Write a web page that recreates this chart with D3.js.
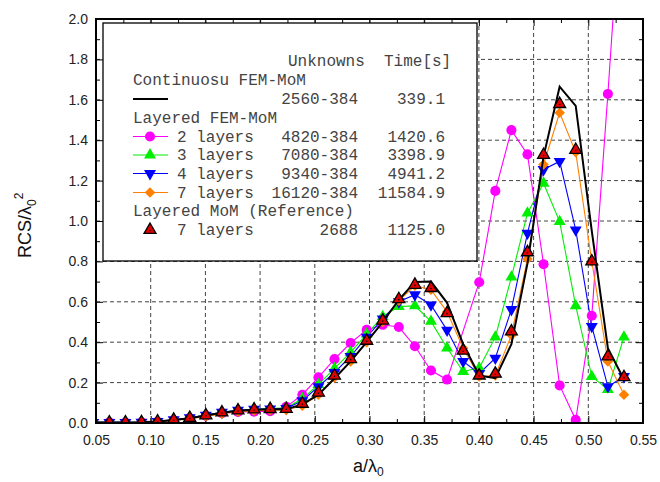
<!DOCTYPE html>
<html lang="en">
<head>
<meta charset="UTF-8">
<title>RCS vs a/λ0</title>
<script src="https://d3js.org/d3.v7.min.js"></script>
<style>
  body { margin: 0; background: #fff; }
  svg { display: block; font-family: "Liberation Sans", Arial, sans-serif; }
  .tick text { font-size: 14px; fill: #222; }
  .tick line { stroke: #000; }
  .legend text { font-family: "Liberation Mono", "Courier New", monospace; font-size: 16px; fill: #444; }
  .grid line { stroke: #444; stroke-dasharray: 4,3; }
  .axis-label { font-size: 18px; fill: #111; }
</style>
</head>
<body>
<svg width="660" height="482"></svg>
<script>
// a/lambda0 sample points
const aLambda = [0.0475, 0.0622, 0.0769, 0.0916, 0.1063, 0.1210, 0.1357, 0.1504, 0.1651, 0.1798,
  0.1945, 0.2092, 0.2239, 0.2386, 0.2533, 0.2680, 0.2827, 0.2974, 0.3121, 0.3268,
  0.3415, 0.3562, 0.3709, 0.3856, 0.4003, 0.4150, 0.4297, 0.4444, 0.4591, 0.4738,
  0.4885, 0.5032, 0.5179, 0.5326];

// Continuous FEM-MoM
const contFem = [0.003, 0.003, 0.003, 0.004, 0.007, 0.015, 0.024, 0.037, 0.051, 0.061,
  0.066, 0.068, 0.068, 0.092, 0.140, 0.220, 0.305, 0.400, 0.500, 0.610,
  0.698, 0.700, 0.595, 0.390, 0.235, 0.222, 0.390, 0.790, 1.320, 1.665,
  1.570, 0.950, 0.370, 0.215];

// Layered FEM-MoM
const fem2 = [0.003, 0.003, 0.002, 0.003, 0.006, 0.014, 0.024, 0.036, 0.048, 0.055,
  0.056, 0.058, 0.080, 0.140, 0.226, 0.316, 0.396, 0.461, 0.486, 0.475,
  0.380, 0.260, 0.215, null, 0.697, 1.149, 1.450, 1.330, 0.786, 0.186,
  0.016, 0.531, 1.629, 2.800];
const fem3 = [0.003, 0.003, 0.003, 0.004, 0.008, 0.016, 0.026, 0.039, 0.053, 0.063,
  0.068, 0.071, 0.075, 0.120, 0.190, 0.270, 0.350, 0.440, 0.527, 0.577,
  0.580, 0.503, 0.371, 0.255, 0.272, 0.425, 0.722, 1.039, 1.187, 0.997,
  0.580, 0.230, 0.165, 0.425];
const fem4 = [0.003, 0.003, 0.003, 0.004, 0.008, 0.016, 0.026, 0.039, 0.053, 0.063,
  0.068, 0.070, 0.072, 0.110, 0.180, 0.250, 0.330, 0.425, 0.515, 0.600,
  0.635, 0.585, 0.460, 0.305, 0.245, 0.321, 0.562, 0.940, 1.255, 1.295,
  0.956, 0.478, 0.180, 0.230];
const fem7 = [0.002, 0.002, 0.002, 0.003, 0.006, 0.013, 0.021, 0.033, 0.046, 0.056,
  0.061, 0.063, 0.064, 0.085, 0.140, 0.225, 0.305, 0.400, 0.500, 0.605,
  0.680, 0.660, 0.550, 0.370, 0.230, 0.235, 0.435, 0.812, 1.280, 1.536,
  1.340, 0.800, 0.305, 0.140];

// Layered MoM (reference)
const momRef = [0.003, 0.003, 0.003, 0.004, 0.008, 0.016, 0.025, 0.038, 0.052, 0.062,
  0.067, 0.069, 0.070, 0.095, 0.150, 0.234, 0.316, 0.407, 0.507, 0.613,
  0.684, 0.668, 0.544, 0.358, 0.235, 0.244, 0.453, 0.845, 1.327, 1.579,
  1.352, 0.800, 0.330, 0.227];

const xTicks = [0.05, 0.10, 0.15, 0.20, 0.25, 0.30, 0.35, 0.40, 0.45, 0.50, 0.55];
const yTicks = [0.0, 0.2, 0.4, 0.6, 0.8, 1.0, 1.2, 1.4, 1.6, 1.8, 2.0];

const layerLabels = ["2 layers", "3 layers", "4 layers", "7 layers"];
const layerUnknowns = ["4820-384", "7080-384", "9340-384", "16120-384"];
const layerTimes = ["1420.6", "3398.9", "4941.2", "11584.9"];

const margin = { top: 19, left: 96 };
const width = 547, height = 404;

const svg = d3.select("svg");
const g = svg.append("g").attr("transform", `translate(${margin.left},${margin.top})`);

const x = d3.scaleLinear().domain([0.05, 0.55]).range([0, width]);
const y = d3.scaleLinear().domain([0, 2]).range([height, 0]);

// dashed grid
const grid = g.append("g").attr("class", "grid");
grid.selectAll(".gx").data(xTicks.slice(1, -1)).join("line")
  .attr("x1", d => x(d)).attr("x2", d => x(d)).attr("y1", 0).attr("y2", height);
grid.selectAll(".gy").data(yTicks.slice(1, -1)).join("line")
  .attr("x1", 0).attr("x2", width).attr("y1", d => y(d)).attr("y2", d => y(d));

// inward ticks on all four sides
const xMinor = d3.range(0.075, 0.55, 0.05);
const yMinor = d3.range(0.1, 2.0, 0.2);

g.append("g").attr("transform", `translate(0,${height})`)
  .call(d3.axisBottom(x).tickValues(xTicks).tickSize(-7).tickPadding(12).tickFormat(d3.format(".2f")))
  .call(a => a.select(".domain").remove());
g.append("g").attr("transform", `translate(0,${height})`)
  .call(d3.axisBottom(x).tickValues(xMinor).tickSize(-4).tickFormat(""))
  .call(a => a.select(".domain").remove());
g.append("g")
  .call(d3.axisTop(x).tickValues(xTicks).tickSize(-7).tickFormat(""))
  .call(a => a.select(".domain").remove());
g.append("g")
  .call(d3.axisTop(x).tickValues(xMinor).tickSize(-4).tickFormat(""))
  .call(a => a.select(".domain").remove());
g.append("g")
  .call(d3.axisLeft(y).tickValues(yTicks).tickSize(-7).tickPadding(8).tickFormat(d3.format(".1f")))
  .call(a => a.select(".domain").remove());
g.append("g")
  .call(d3.axisLeft(y).tickValues(yMinor).tickSize(-4).tickFormat(""))
  .call(a => a.select(".domain").remove());
g.append("g").attr("transform", `translate(${width},0)`)
  .call(d3.axisRight(y).tickValues(yTicks).tickSize(-7).tickFormat(""))
  .call(a => a.select(".domain").remove());
g.append("g").attr("transform", `translate(${width},0)`)
  .call(d3.axisRight(y).tickValues(yMinor).tickSize(-4).tickFormat(""))
  .call(a => a.select(".domain").remove());

// curves
svg.append("defs").append("clipPath").attr("id", "clip")
  .append("rect").attr("width", width).attr("height", height);
const plot = g.append("g").attr("clip-path", "url(#clip)");

const line = d3.line().x(d => x(d[0])).y(d => y(d[1]));
const pairs = vals => aLambda.map((a, i) => [a, vals[i]]).filter(p => p[1] != null);

const femSeries = [
  { values: fem2, color: "#ff00ff", type: d3.symbolCircle, size: 80, rot: 0 },
  { values: fem3, color: "#00ee00", type: d3.symbolTriangle, size: 62, rot: 0 },
  { values: fem4, color: "#0000ff", type: d3.symbolTriangle, size: 62, rot: 180 },
  { values: fem7, color: "#ff8000", type: d3.symbolSquare, size: 56, rot: 45 }
];

function drawMarker(sel, s, cx, cy) {
  sel.append("path")
    .attr("d", d3.symbol().type(s.type).size(s.size)())
    .attr("transform", `translate(${cx},${cy}) rotate(${s.rot})`)
    .attr("fill", s.color);
}

function drawRef(sel, cx, cy) {
  sel.append("path")
    .attr("d", d3.symbol().type(d3.symbolTriangle).size(62)())
    .attr("transform", `translate(${cx},${cy})`)
    .attr("fill", "#e30000").attr("stroke", "#000").attr("stroke-width", 1.3);
  sel.append("circle").attr("cx", cx).attr("cy", cy + 0.5).attr("r", 0.8).attr("fill", "#000");
}

femSeries.forEach(s => {
  plot.append("path").datum(pairs(s.values))
    .attr("d", line).attr("fill", "none").attr("stroke", s.color).attr("stroke-width", 1.1);
});
femSeries.forEach(s => {
  const mg = plot.append("g");
  pairs(s.values).forEach(p => drawMarker(mg, s, x(p[0]), y(p[1])));
});

plot.append("path").datum(pairs(contFem))
  .attr("d", line).attr("fill", "none").attr("stroke", "#000").attr("stroke-width", 2);

const refG = plot.append("g");
pairs(momRef).forEach(p => drawRef(refG, x(p[0]), y(p[1])));

// legend
const lg = svg.append("g").attr("class", "legend");
lg.append("rect").attr("x", 103).attr("y", 23).attr("width", 374).attr("height", 238)
  .attr("fill", "#fff").attr("stroke", "#000").attr("stroke-width", 1.3);

lg.append("text").attr("x", 288).attr("y", 66).text("Unknowns");
lg.append("text").attr("x", 384).attr("y", 66).text("Time[s]");
lg.append("text").attr("x", 133).attr("y", 85).text("Continuosu FEM-MoM");
lg.append("line").attr("x1", 133).attr("x2", 168).attr("y1", 99).attr("y2", 99)
  .attr("stroke", "#000").attr("stroke-width", 2);
lg.append("text").attr("x", 358).attr("y", 104).attr("text-anchor", "end").text("2560-384");
lg.append("text").attr("x", 445).attr("y", 104).attr("text-anchor", "end").text("339.1");
lg.append("text").attr("x", 133).attr("y", 123).text("Layered FEM-MoM");

const rowY = [141.5, 160, 178.5, 197.5];
femSeries.forEach((s, i) => {
  const cy = rowY[i] - 5;
  lg.append("line").attr("x1", 133).attr("x2", 168).attr("y1", cy).attr("y2", cy)
    .attr("stroke", s.color).attr("stroke-width", 1.1);
  drawMarker(lg, s, 150, cy);
  lg.append("text").attr("x", 177).attr("y", rowY[i]).text(layerLabels[i]);
  lg.append("text").attr("x", 358).attr("y", rowY[i]).attr("text-anchor", "end").text(layerUnknowns[i]);
  lg.append("text").attr("x", 445).attr("y", rowY[i]).attr("text-anchor", "end").text(layerTimes[i]);
});

lg.append("text").attr("x", 133).attr("y", 216).text("Layered MoM (Reference)");
drawRef(lg, 150, 230);
lg.append("text").attr("x", 177).attr("y", 235).text("7 layers");
lg.append("text").attr("x", 358).attr("y", 235).attr("text-anchor", "end").text("2688");
lg.append("text").attr("x", 445).attr("y", 235).attr("text-anchor", "end").text("1125.0");

// frame
g.append("rect").attr("width", width).attr("height", height)
  .attr("fill", "none").attr("stroke", "#000").attr("stroke-width", 2);

// axis titles
const yl = svg.append("text").attr("class", "axis-label")
  .attr("transform", "translate(31,258) rotate(-90)");
yl.append("tspan").text("RCS/λ");
yl.append("tspan").attr("dy", 5).style("font-size", "12px").text("0");
yl.append("tspan").attr("dy", -13).style("font-size", "12px").text("2");

const xl = svg.append("text").attr("class", "axis-label")
  .attr("x", 353).attr("y", 472);
xl.append("tspan").text("a/λ");
xl.append("tspan").attr("dy", 4).style("font-size", "12px").text("0");
</script>
</body>
</html>
